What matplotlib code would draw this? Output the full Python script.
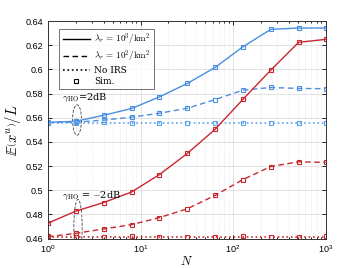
import numpy as np
import matplotlib
matplotlib.use("Agg")
import matplotlib.pyplot as plt
from matplotlib.lines import Line2D
from matplotlib.patches import Ellipse

plt.rcParams['mathtext.fontset'] = 'cm'
plt.rcParams['font.family'] = ['Liberation Sans', 'DejaVu Sans']

# =============================================================================
#                               Data
# =============================================================================
N = [1, 2, 4, 8, 16, 32, 64, 128, 256, 512, 1000]

# gamma_HO = 2dB
blue_hi = [0.5562, 0.5570, 0.5620, 0.5676, 0.5772, 0.5883, 0.6016, 0.6187, 0.6331, 0.6342, 0.6342]
blue_lo = [0.5560, 0.5563, 0.5580, 0.5604, 0.5637, 0.5678, 0.5750, 0.5828, 0.5850, 0.5842, 0.5840]
blue_no = [0.5557, 0.5557, 0.5557, 0.5557, 0.5557, 0.5557, 0.5557, 0.5557, 0.5557, 0.5557, 0.5557]
blue_no_sim = [0.5560, 0.5555, 0.5562, 0.5552, 0.5557, 0.5560, 0.5560, 0.5553, 0.5552, 0.5557, 0.5560]

# gamma_HO = -2dB
red_hi = [0.4727, 0.4827, 0.4898, 0.4985, 0.5129, 0.5304, 0.5504, 0.5752, 0.5994, 0.6224, 0.6248]
red_lo = [0.4615, 0.4643, 0.4679, 0.4715, 0.4773, 0.4846, 0.4957, 0.5088, 0.5196, 0.5235, 0.5230]
red_no = [0.4615, 0.4615, 0.4615, 0.4615, 0.4615, 0.4615, 0.4615, 0.4615, 0.4615, 0.4615, 0.4615]
red_no_sim = [0.4618, 0.4615, 0.4613, 0.4620, 0.4615, 0.4615, 0.4613, 0.4618, 0.4613, 0.4616, 0.4620]

yticks = [0.46, 0.48, 0.5, 0.52, 0.54, 0.56, 0.58, 0.6, 0.62, 0.64]
ytick_labels = ['0.46', '0.48', '0.5', '0.52', '0.54', '0.56', '0.58', '0.6', '0.62', '0.64']

blue = '#4a8fe0'
blue_light = '#5ea3f0'
red = '#c8282d'

# =============================================================================
#                               Plot
# =============================================================================
fig = plt.figure(figsize=(3.57, 2.68), dpi=100)
ax = fig.add_axes([0.1345, 0.110, 0.7775, 0.8116])

mk = dict(marker='s', markersize=3.2, markerfacecolor='none', markeredgewidth=0.8)

for c, c_no, hi, lo, no, no_sim in [(blue, blue_light, blue_hi, blue_lo, blue_no, blue_no_sim),
                                    (red, red, red_hi, red_lo, red_no, red_no_sim)]:
    ax.plot(N, hi, '-', color=c, lw=1.0)
    ax.plot(N, hi, ls='none', color=c, **mk)
    ax.plot(N, lo, '--', color=c, lw=1.0, dashes=(4, 2.5))
    ax.plot(N, lo, ls='none', color=c, **mk)
    ax.plot(N, no, ':', color=c_no, lw=1.2)
    ax.plot(N, no_sim, ls='none', color=c_no, **mk)

ax.set_xscale('log')
ax.set_xlim(1, 1000)
ax.set_ylim(0.46, 0.64)
ax.set_yticks(yticks)
ax.set_yticklabels(ytick_labels)

ax.grid(True, which='major', color='#dddddd', lw=0.6)
ax.grid(True, which='minor', axis='x', color='#dddddd', lw=0.5, ls=':')
ax.tick_params(which='both', direction='in', top=True, right=True, labelsize=6.5, width=0.6)
ax.tick_params(which='major', length=3)
ax.tick_params(which='minor', length=1.5)
for s in ax.spines.values():
    s.set_linewidth(0.7)
    s.set_color('#333333')

ax.set_xlabel(r'$N$', fontsize=9, labelpad=0)
ax.set_ylabel(r'$\mathbb{E}\left(x^{u}\right)/L$', fontsize=10.5, labelpad=2)

# annotations
ax.add_patch(Ellipse((0.1045, 0.545), 0.032, 0.14, transform=ax.transAxes,
                     fill=False, ls='--', lw=0.6, color='#444444'))
ax.add_patch(Ellipse((0.108, 0.05), 0.030, 0.26, transform=ax.transAxes,
                     fill=False, ls='--', lw=0.6, color='#444444', clip_on=True))
ax.text(0.05, 0.64, r'$\gamma_{\rm HO}$=2dB', transform=ax.transAxes, fontsize=7,
        family='serif')
ax.text(0.05, 0.19, r'$\gamma_{\rm HO}$ = $-$2dB', transform=ax.transAxes, fontsize=7,
        family='serif')

handles = [Line2D([], [], color='k', ls='-', lw=1.0),
           Line2D([], [], color='k', ls='--', lw=1.0, dashes=(4, 2.5)),
           Line2D([], [], color='k', ls=':', lw=1.2),
           Line2D([], [], color='k', ls='none', marker='s', markersize=3.2,
                  markerfacecolor='none', markeredgewidth=0.8)]
labels = [r'$\lambda_r\,=\,10^3/{\rm km}^2$', r'$\lambda_r\,=\,10^2/{\rm km}^2$',
          r'No IRS', r'Sim.']
leg = ax.legend(handles, labels, loc='upper left', bbox_to_anchor=(0.025, 0.985),
                frameon=True, fancybox=False, edgecolor='#333333', handlelength=3,
                borderpad=0.35, labelspacing=0.2, handletextpad=0.5,
                prop={'family': 'DejaVu Serif', 'size': 6.5})
leg.get_frame().set_linewidth(0.6)

plt.savefig('out.png', dpi=100)
